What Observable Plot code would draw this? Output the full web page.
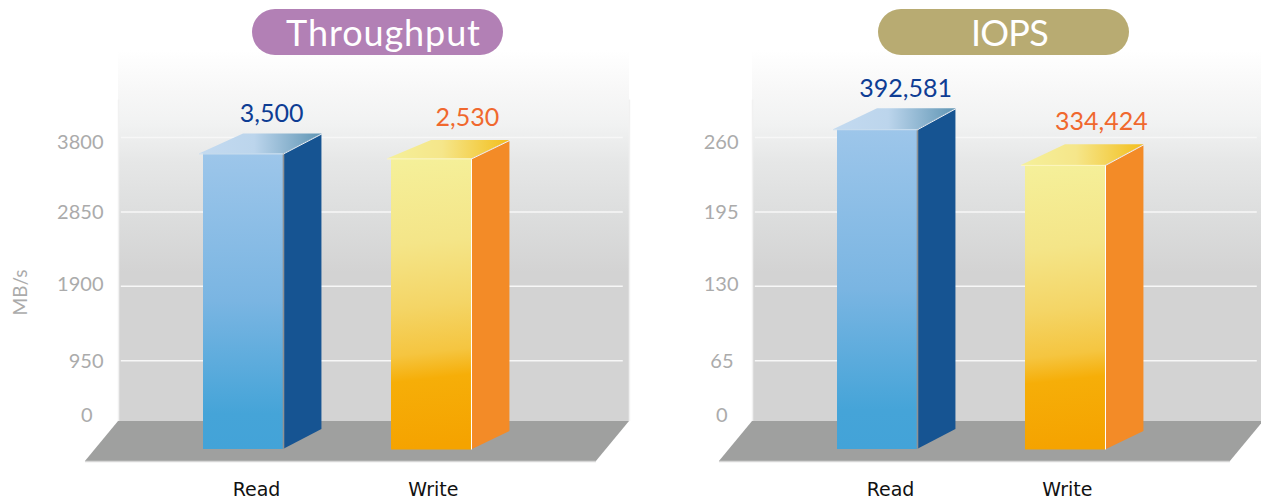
<!DOCTYPE html>
<html><head><meta charset="utf-8">
<script src="https://cdn.jsdelivr.net/npm/d3@7"></script>
<script src="https://cdn.jsdelivr.net/npm/@observablehq/plot@0.6"></script>
<style>
html,body{margin:0;padding:0;background:#fff;overflow:hidden;width:1261px;height:501px}
#stage{position:relative;width:1261px;height:501px;overflow:hidden}
.panel{position:absolute;top:0;width:634px;height:501px}
.panel svg{max-width:none}
.pill{position:absolute;top:9px;width:251px;height:46px;box-sizing:border-box;padding-left:12px;border-radius:23px;color:#fff;font:36px/47px Lato,sans-serif;text-align:center;z-index:2;white-space:nowrap}
</style></head><body><div id="stage"></div>
<script>
const categories = ["Read", "Write"];
const slots = [0, 1];
const titles = ["Throughput", "IOPS"];
const yLabels = ["MB/s", null];
const throughputTicks = [0, 950, 1900, 2850, 3800];
const iopsTicks = [0, 65, 130, 195, 260];
const throughputLabels = [3500, 2530];
const iopsLabels = [392581, 334424];
// drawn heights, read against each axis (the printed labels are not to axis scale)
const throughputFrontTop = [3590, 3526];
const throughputBackTop = [3846, 3763];
const throughputBackBase = [70, 45];
const throughputFrontBase = [-185, -192];
const iopsFrontTop = [266.8, 235.6];
const iopsBackTop = [285.2, 253.7];
const iopsBackBase = [4.8, 3.1];
const iopsFrontBase = [-12.7, -13.1];

const valueColors = ["#0e3d94", "#f0682e"];
const sideColors = ["#165492", "#f38b27"];
const edgeColors = ["#8f9294", "#ffffff"];
const topEdgeColors = ["#cfe0ef", "#fdf6c0"];

function svgFrag(markup){
  const g = document.createElementNS("http://www.w3.org/2000/svg","g");
  g.innerHTML = markup;
  return g;
}
const defs = () => svgFrag(`<defs>
<linearGradient id="wall" x1="0" y1="0" x2="0" y2="1">
 <stop offset="0" stop-color="#ffffff"/><stop offset=".1" stop-color="#f8f8f8"/>
 <stop offset=".2" stop-color="#f1f2f2"/><stop offset=".3" stop-color="#e6e7e7"/>
 <stop offset=".45" stop-color="#dcdddd"/><stop offset=".6" stop-color="#d3d3d3"/>
 <stop offset="1" stop-color="#d3d3d3"/></linearGradient>
<linearGradient id="front0" x1="0" y1="0" x2="0" y2="1">
 <stop offset="0" stop-color="#9dc6ea"/><stop offset=".5" stop-color="#7ab5e2"/>
 <stop offset=".88" stop-color="#45a4d8"/><stop offset="1" stop-color="#43a3d8"/></linearGradient>
<linearGradient id="front1" x1="0" y1="0" x2=".03" y2="1">
 <stop offset="0" stop-color="#f5f09a"/><stop offset=".3" stop-color="#f4e588"/>
 <stop offset=".52" stop-color="#f4d566"/><stop offset=".68" stop-color="#f5c540"/>
 <stop offset=".77" stop-color="#f6ae08"/><stop offset="1" stop-color="#f5a300"/></linearGradient>
<linearGradient id="top0" x1="0" y1="0" x2="1" y2="0">
 <stop offset="0" stop-color="#c3daf0"/><stop offset=".45" stop-color="#bcd5ec"/>
 <stop offset="1" stop-color="#5f95b4"/></linearGradient>
<linearGradient id="top1" x1="0" y1="0" x2="1" y2="0">
 <stop offset="0" stop-color="#f5f09a"/><stop offset=".45" stop-color="#f5e68a"/>
 <stop offset="1" stop-color="#f3be1c"/></linearGradient>
</defs>`);

function panel(i, cfg){
  const {ticks, labels, frontTop, backTop, backBase, frontBase, tickNudge, k} = cfg;
  const floorBack = 13.5 * k, floorFront = -26.5 * k, wallTop = 384.5 * k;
  const bw = 0.4255, side = 0.63, over = -0.021, backL = 0.213;
  const marks = [
    defs,
    Plot.rect([0], {x1: -0.452, x2: 2.266, y1: floorBack, y2: wallTop, fill: "url(#wall)"}),
    Plot.ruleX([-0.452, 2.266], {y1: floorBack, y2: 335 * k, stroke: "#f1f1f1", strokeWidth: 1.5}),
    Plot.areaX([
      {y: floorFront, a: -0.628, b: 2.09},
      {y: floorBack, a: -0.452, b: 2.266}
    ], {y: "y", x1: "a", x2: "b", fill: "#9fa09f"}),
    Plot.ruleY([floorFront], {x1: -0.628, x2: 2.09, stroke: "#d6d6d6", strokeWidth: 1.5}),
    Plot.ruleY(ticks.slice(1), {x1: -0.437, x2: 2.233, stroke: "#f7f7f7", strokeWidth: 1.5})
  ];
  ticks.forEach((t, j) => marks.push(Plot.axisY({
    anchor: "left", ticks: [t], tickSize: 0, tickPadding: 0, label: null,
    tickFormat: d => String(d), dx: tickNudge[j][0], dy: tickNudge[j][1],
    fontSize: 20, fill: "#ababab", color: "#ababab"
  })));
  if (yLabels[i]) marks.push(Plot.text([yLabels[i]], {
    text: d => d, frameAnchor: "left", textAnchor: "middle", dx: 20, y: ticks[4] * 0.479, rotate: -90,
    fontSize: 19, fill: "#ababab"
  }));
  slots.forEach((s, b) => {
    const l = s, r = s + bw, sr = s + side;
    marks.push(
      Plot.areaY([
        {x: r, y1: frontBase[b], y2: frontTop[b]},
        {x: sr, y1: backBase[b], y2: backTop[b]}
      ], {x: "x", y1: "y1", y2: "y2", fill: sideColors[b]}),
      Plot.areaX([
        {y: frontTop[b], x1: l + over, x2: r},
        {y: backTop[b], x1: l + backL, x2: sr}
      ], {y: "y", x1: "x1", x2: "x2", fill: `url(#top${b})`}),
      Plot.rect([0], {x1: l, x2: r, y1: frontBase[b], y2: frontTop[b], fill: `url(#front${b})`}),
      Plot.ruleX([r], {y1: frontBase[b], y2: frontTop[b], stroke: edgeColors[b], strokeWidth: b ? 1 : 1.6}),
      Plot.line([[r, frontTop[b]], [sr, backTop[b]]], {stroke: "#eef3f6", strokeWidth: 1}),
      Plot.ruleY([frontTop[b]], {x1: l + over, x2: r, stroke: topEdgeColors[b], strokeWidth: 1}),
      Plot.text([labels[b]], {
        text: d => d3.format(",")(d), x: s + [0.362, 0.404][b], y: backTop[b],
        dy: [-19.5, -22.5][b], fontSize: 25, fill: valueColors[b]
      }),
      Plot.text([categories[b]], {
        text: d => d, x: s + [0.282, 0.223][b], frameAnchor: "bottom", dy: -6,
        fontSize: 19, fill: "#111", fontFamily: "DejaVu Sans"
      })
    );
  });
  return Plot.plot({
    width: 634, height: 501,
    marginTop: 0, marginBottom: 0, marginLeft: 0, marginRight: 0,
    style: {fontFamily: "Lato, sans-serif", background: "transparent", overflow: "visible"},
    x: {domain: [-1.0798, 2.2926], range: [0, 634], axis: null},
    y: {domain: [0, ticks[4]], range: [434.5, 137], axis: null},
    marks
  });
}

const stage = document.getElementById("stage");
const cfgs = [
  {ticks: throughputTicks, labels: throughputLabels, frontTop: throughputFrontTop, backTop: throughputBackTop,
   backBase: throughputBackBase, frontBase: throughputFrontBase, k: 3800 / 297.5,
   tickNudge: [[92, -19.5], [103, 1], [103, -1.7], [103, 0.6], [103, 5]]},
  {ticks: iopsTicks, labels: iopsLabels, frontTop: iopsFrontTop, backTop: iopsBackTop,
   backBase: iopsBackBase, frontBase: iopsFrontBase, k: 260 / 297.5,
   tickNudge: [[93, -19.5], [99, 1], [104, -1.7], [104, 0.6], [104, 5.5]]}
];
const pillColors = ["#b280b5", "#b8ab72"];
const pillX = [252, 878];
const pillSpacing = ["0.9px", "-0.7px"];
cfgs.forEach((c, i) => {
  const div = document.createElement("div");
  div.className = "panel";
  div.style.left = (i * 634) + "px";
  div.appendChild(panel(i, c));
  stage.appendChild(div);
  const p = document.createElement("div");
  p.className = "pill";
  p.style.left = pillX[i] + "px";
  p.style.background = pillColors[i];
  p.style.letterSpacing = pillSpacing[i];
  p.textContent = titles[i];
  stage.appendChild(p);
});
</script></body></html>
